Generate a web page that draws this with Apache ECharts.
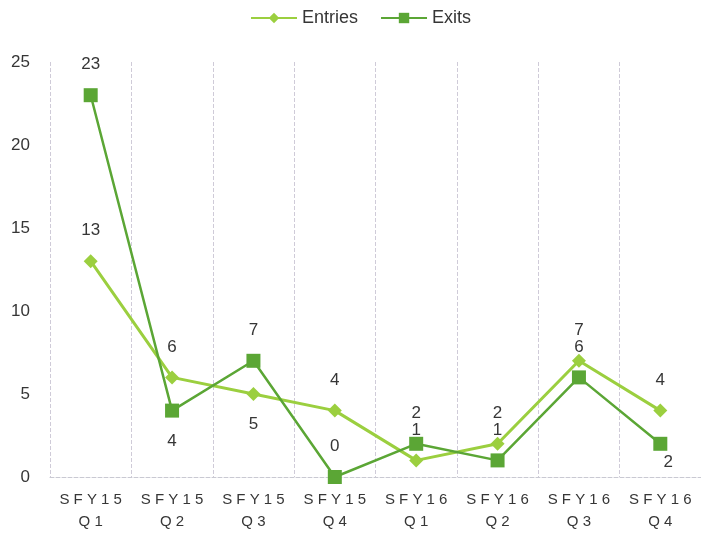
<!DOCTYPE html>
<html>
<head>
<meta charset="utf-8">
<script src="https://cdn.jsdelivr.net/npm/echarts@6/dist/echarts.min.js"></script>
<style>html,body{margin:0;padding:0;background:#fff}#c{width:701px;height:535px}</style>
</head>
<body>
<div id="c"></div>
<script>
var categories = ["SFY15\nQ1","SFY15\nQ2","SFY15\nQ3","SFY15\nQ4","SFY16\nQ1","SFY16\nQ2","SFY16\nQ3","SFY16\nQ4"];
var entries = [13, 6, 5, 4, 1, 2, 7, 4];
var exits = [23, 4, 7, 0, 2, 1, 6, 2];
var yTicks = {min: 0, max: 25, interval: 5};

// label placement per point (styling only)
var entriesLabelPos = ["top","top","bottom","top","top","top","top","top"];
var exitsLabelPos = ["top","bottom","top","top","top","top","top","bottom"];

var FONT = "Liberation Sans";
var TXT = "#363636";
function mk(values, pos, special) {
  return values.map(function (v, i) {
    var lab = {position: pos[i], distance: 15};
    if (special && special[i]) { Object.assign(lab, special[i]); }
    return {value: v, label: lab};
  });
}
var chart = echarts.init(document.getElementById('c'), null, {renderer: 'canvas'});
chart.setOption({
  animation: false,
  legend: {
    top: 4, left: 245,
    itemWidth: 46, itemHeight: 13, itemGap: 22,
    textStyle: {fontFamily: FONT, fontSize: 18, color: TXT},
    data: ['Entries', 'Exits']
  },
  grid: {left: 50, right: -6, top: 62, bottom: 58},
  xAxis: {
    type: 'category',
    data: categories,
    boundaryGap: true,
    axisTick: {show: false},
    axisLine: {lineStyle: {color: '#c9c9d2', type: 'dashed', width: 1}},
    splitLine: {show: true, lineStyle: {color: '#cfcbd8', type: 'dashed', width: 1}},
    axisLabel: {
      fontFamily: FONT, fontSize: 15, color: TXT, lineHeight: 22, margin: 12,
      interval: 0,
      formatter: function (s) {
        return s.split('\n').map(function (p) { return p.split('').join(' '); }).join('\n');
      }
    }
  },
  yAxis: {
    type: 'value',
    min: yTicks.min, max: yTicks.max, interval: yTicks.interval,
    axisLine: {show: false}, axisTick: {show: false},
    splitLine: {show: false},
    axisLabel: {fontFamily: FONT, fontSize: 17, color: TXT, margin: 20}
  },
  series: [
    {
      name: 'Entries', type: 'line',
      data: mk(entries, entriesLabelPos),
      symbol: 'diamond', symbolSize: 14,
      lineStyle: {color: '#9bcf3f', width: 3},
      itemStyle: {color: '#9bcf3f'},
      label: {show: true, fontFamily: FONT, fontSize: 17, color: TXT},
      z: 2
    },
    {
      name: 'Exits', type: 'line',
      data: mk(exits, exitsLabelPos, {7: {distance: 3, offset: [8, 0]}}),
      symbol: 'rect', symbolSize: 14,
      lineStyle: {color: '#5ba635', width: 2.5},
      itemStyle: {color: '#5ba635'},
      label: {show: true, fontFamily: FONT, fontSize: 17, color: TXT},
      z: 3
    }
  ]
});
</script>
</body>
</html>
